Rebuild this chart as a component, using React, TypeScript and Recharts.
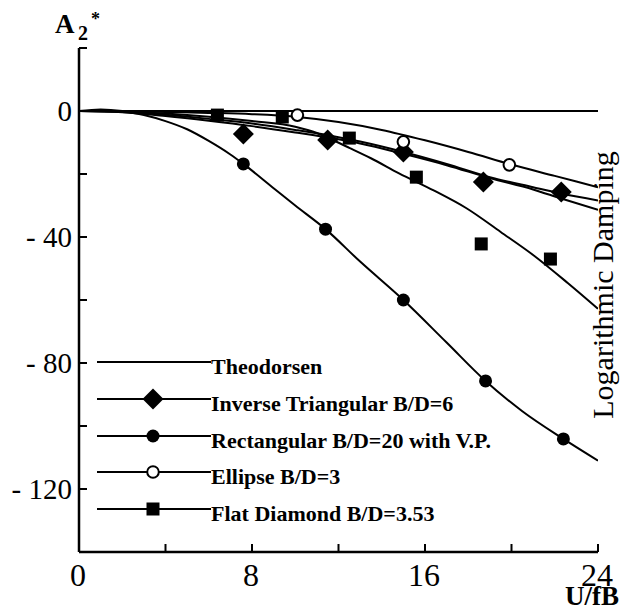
import React from "react";
import { ComposedChart, Line, Scatter, XAxis, YAxis, Customized } from "recharts";

// ---- data ----
const theoX = [0, 24];
const theoY = [0, 0];

const rectCurveX = [0, 1, 2, 3, 4, 5, 6, 7, 7.6, 9, 10, 11.4, 13, 15, 17, 18.8, 20.5, 22.4, 24];
const rectCurveY = [0, 0.5, 0, -1.3, -3.2, -5.8, -9.5, -13.8, -16.8, -24.5, -30, -37.5, -47.8, -60, -73.5, -85.7, -95.3, -104.1, -111];

const ellCurveX = [0, 2, 4, 6, 8, 10, 12, 14, 16, 18, 20, 22, 24];
const ellCurveY = [0, 0, -0.3, -0.6, -1, -1.8, -3.5, -6, -9.3, -13, -17, -20.6, -24.2];

const triCurveX = [0, 2, 4, 6, 8, 10, 12, 13, 15, 17, 19, 21, 22.3, 24];
const triCurveY = [0, -0.3, -1.2, -2.5, -4, -6, -8.3, -9.7, -13, -16.8, -21, -24.2, -26.2, -28.4];

const triCurve2X = [0, 2, 4, 6, 8, 10, 12, 13, 15, 17, 19, 21, 22.3, 24];
const triCurve2Y = [0, -0.4, -1.6, -3.1, -4.8, -6.8, -9, -10.3, -13.6, -17.2, -21.3, -24.9, -27.8, -31.4];

const flatCurveX = [0, 2, 4, 6, 8, 10, 11, 11.5, 12.5, 13.5, 14.8, 16.4, 17.9, 19.5, 21, 22.6, 24];
const flatCurveY = [0, -0.2, -0.8, -1.8, -3.2, -5, -7, -8.5, -11.7, -15, -19.8, -25.2, -30.8, -38.4, -45.7, -54.6, -62.8];

const rectPtsX = [7.6, 11.4, 15, 18.8, 22.4];
const rectPtsY = [-16.8, -37.5, -60, -85.7, -104.1];
const triPtsX = [7.6, 11.5, 15, 18.7, 22.3];
const triPtsY = [-7.3, -9.2, -13, -22.5, -25.7];
const ellPtsX = [10.1, 15, 19.9];
const ellPtsY = [-1.3, -9.8, -17.1];
const flatPtsX = [6.4, 9.4, 12.5, 15.6, 18.6, 21.8];
const flatPtsY = [-1.3, -1.9, -8.6, -21, -42.2, -47];

const xTicks = [0, 4, 8, 12, 16, 20, 24];
const xTickLabels: Record<number, string> = { 0: "0", 8: "8", 16: "16", 24: "24" };
const yTicks = [20, 0, -20, -40, -60, -80, -100, -120, -140];
const yTickLabels: Record<number, string> = { 0: "0", [-40]: "- 40", [-80]: "- 80", [-120]: "- 120" };

const legendNames = [
  "Theodorsen",
  "Inverse Triangular B/D=6",
  "Rectangular B/D=20 with V.P.",
  "Ellipse B/D=3",
  "Flat Diamond B/D=3.53",
];

const zip = (xs: number[], ys: number[]) => xs.map((x, i) => ({ x, y: ys[i] }));

const SERIF = "'Liberation Serif', 'Times New Roman', serif";
const W = 622;
const H = 616;
const Y_AXIS_W = 60;
const X_AXIS_H = 30;

// ---- marker shapes ----
const Diamond = ({ cx, cy }: any) => (
  <polygon points={`${cx},${cy - 10.5} ${cx + 10.5},${cy} ${cx},${cy + 10.5} ${cx - 10.5},${cy}`} fill="#000" />
);
const Dot = ({ cx, cy }: any) => <circle cx={cx} cy={cy} r={6.5} fill="#000" />;
const OpenDot = ({ cx, cy }: any) => <circle cx={cx} cy={cy} r={5.8} fill="#fff" stroke="#000" strokeWidth={2} />;
const Square = ({ cx, cy }: any) => <rect x={cx - 6.5} y={cy - 6.5} width={13} height={13} fill="#000" />;

const XTick = ({ x, y, payload }: any) => {
  const v = payload.value;
  const lbl = xTickLabels[v];
  return (
    <g>
      <line x1={x} y1={y} x2={x} y2={y - 8} stroke="#000" strokeWidth={2} />
      {lbl !== undefined && (
        <text x={x - 1} y={y + 34} textAnchor="middle" fontFamily={SERIF} fontSize={32} fill="#000">
          {lbl}
        </text>
      )}
    </g>
  );
};

const YTick = ({ x, y, payload }: any) => {
  const v = payload.value;
  const lbl = yTickLabels[v];
  return (
    <g>
      <line x1={x} y1={y} x2={x + 8} y2={y} stroke="#000" strokeWidth={2} />
      {lbl !== undefined && (
        <text x={x - 7} y={y + 10} textAnchor="end" fontFamily={SERIF} fontSize={29} fill="#000">
          {lbl}
        </text>
      )}
    </g>
  );
};

const Decorations = () => {
  const rows = [362, 399, 436, 472, 509];
  const mx = 153;
  const markers = [
    null,
    (cy: number) => <Diamond cx={mx} cy={cy} />,
    (cy: number) => <Dot cx={mx} cy={cy} />,
    (cy: number) => <OpenDot cx={mx} cy={cy} />,
    (cy: number) => <Square cx={mx} cy={cy} />,
  ];
  return (
    <g>
      {rows.map((cy, i) => (
        <g key={i}>
          <line x1={97} y1={cy} x2={211} y2={cy} stroke="#000" strokeWidth={2} />
          {markers[i] && markers[i]!(cy)}
          <text x={211} y={cy + 12} fontFamily={SERIF} fontWeight="bold" fontSize={22} fill="#000">
            {legendNames[i]}
          </text>
        </g>
      ))}
      <text x={55} y={33} fontFamily={SERIF} fontWeight="bold" fontSize={27} fill="#000">A</text>
      <text x={78} y={40} fontFamily={SERIF} fontWeight="bold" fontSize={20} fill="#000">2</text>
      <text x={91} y={25} fontFamily={SERIF} fontWeight="bold" fontSize={18} fill="#000">*</text>
      <text x={619} y={605} textAnchor="end" fontFamily={SERIF} fontWeight="bold" fontSize={27} fill="#000">U/fB</text>
      <text
        x={613}
        y={285}
        textAnchor="middle"
        transform="rotate(-90, 613, 285)"
        fontFamily={SERIF}
        fontSize={30}
        fill="#000"
      >
        Logarithmic Damping
      </text>
    </g>
  );
};

export default function App() {
  const curve = (xs: number[], ys: number[], key: string) => (
    <Line
      key={key}
      data={zip(xs, ys)}
      dataKey="y"
      type="monotone"
      stroke="#000"
      strokeWidth={2}
      dot={false}
      activeDot={false}
      isAnimationActive={false}
    />
  );
  return (
    <div style={{ position: "fixed", left: 0, top: 0, width: W, height: H, background: "#fff", overflow: "hidden" }}>
      <ComposedChart
        width={W}
        height={H}
        margin={{ top: 48, right: 24, bottom: 64 - X_AXIS_H, left: 79 - Y_AXIS_W }}
      >
        <XAxis
          type="number"
          dataKey="x"
          domain={[0, 24]}
          ticks={xTicks}
          interval={0}
          allowDataOverflow
          height={X_AXIS_H}
          tickSize={0}
          tickMargin={0}
          tickLine={false}
          tick={<XTick />}
          axisLine={{ stroke: "#000", strokeWidth: 2.5 }}
        />
        <YAxis
          type="number"
          dataKey="y"
          domain={[-140, 20]}
          ticks={yTicks}
          interval={0}
          allowDataOverflow
          width={Y_AXIS_W}
          tickSize={0}
          tickMargin={0}
          tickLine={false}
          tick={<YTick />}
          axisLine={{ stroke: "#000", strokeWidth: 2.5 }}
        />
        {curve(theoX, theoY, "theo")}
        {curve(ellCurveX, ellCurveY, "ell")}
        {curve(triCurveX, triCurveY, "tri")}
        {curve(triCurve2X, triCurve2Y, "tri2")}
        {curve(flatCurveX, flatCurveY, "flat")}
        {curve(rectCurveX, rectCurveY, "rect")}
        <Scatter data={zip(triPtsX, triPtsY)} dataKey="y" shape={<Diamond />} isAnimationActive={false} />
        <Scatter data={zip(rectPtsX, rectPtsY)} dataKey="y" shape={<Dot />} isAnimationActive={false} />
        <Scatter data={zip(ellPtsX, ellPtsY)} dataKey="y" shape={<OpenDot />} isAnimationActive={false} />
        <Scatter data={zip(flatPtsX, flatPtsY)} dataKey="y" shape={<Square />} isAnimationActive={false} />
        <Customized component={Decorations} />
      </ComposedChart>
    </div>
  );
}
